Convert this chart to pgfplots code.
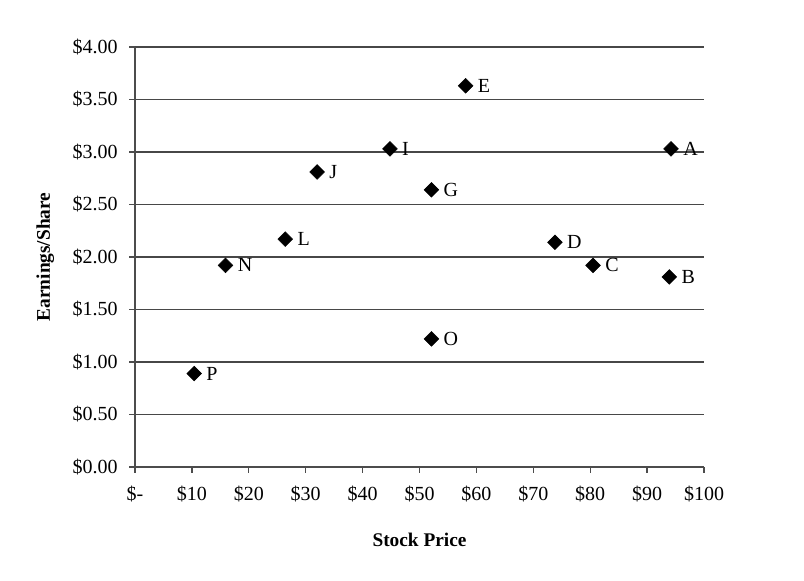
\documentclass[border=0pt]{standalone}
\usepackage{pgfplots}
\pgfplotsset{compat=1.18}
\usepackage{fontspec}
\setmainfont{Liberation Serif}
\begin{document}
\begin{tikzpicture}[x=1pt,y=1pt]
\begin{axis}[
  scale only axis,
  width=426.75pt, height=315pt,
  xmin=0, xmax=100, ymin=0, ymax=4,
  axis lines*=left,
  axis line style={draw=black!70, line width=1.2pt},
  xtick={0,10,...,100},
  xticklabels={\$-,\$10,\$20,\$30,\$40,\$50,\$60,\$70,\$80,\$90,\$100},
  ytick={0,0.5,...,4},
  yticklabels={\$0.00,\$0.50,\$1.00,\$1.50,\$2.00,\$2.50,\$3.00,\$3.50,\$4.00},
  tick align=outside,
  major tick length=4.5pt,
  tick style={draw=black!70, line width=1pt},
  ymajorgrids,
  grid style={draw=black!72, line width=1.2pt},
  ticklabel style={font=\fontsize{15}{17}\selectfont},
  yticklabel style={xshift=-5pt},
  xticklabel style={yshift=-6pt},
  /pgf/number format/assume math mode=true,
  xlabel={\textbf{Stock Price}},
  ylabel={\textbf{Earnings/Share}},
  label style={font=\fontsize{14.5}{16}\selectfont},
  xlabel style={yshift=-17pt},
  ylabel style={yshift=7pt},
  clip=false,
]
\addplot[only marks, mark=square*, mark size=3.9pt, mark options={rotate=45}, black,
  nodes near coords, point meta=explicit symbolic,
  every node near coord/.style={anchor=west, xshift=8pt, yshift=0pt, font=\fontsize{15}{17}\selectfont, inner sep=1pt}]
table[meta=lab]{
x y lab
94.2 3.03 A
93.9 1.81 B
80.5 1.92 C
73.8 2.14 D
58.1 3.63 E
52.1 2.64 G
44.8 3.03 I
32.0 2.81 J
26.4 2.17 L
15.9 1.92 N
52.1 1.22 O
10.4 0.89 P
};
\coordinate (bl) at (rel axis cs:-0.2373,-0.2714);
\coordinate (tr) at (rel axis cs:1.1757,1.1119);
\end{axis}
\pgfresetboundingbox
\path[use as bounding box] (bl) rectangle (tr);
\end{tikzpicture}
\end{document}
